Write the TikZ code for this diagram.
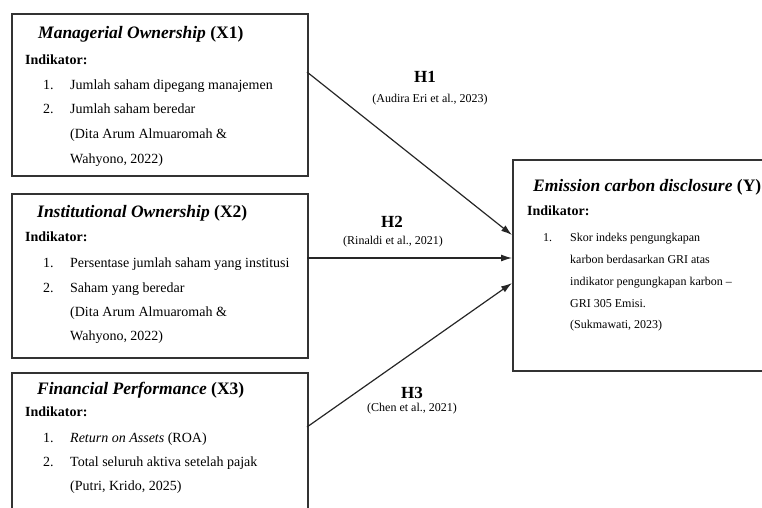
\documentclass[tikz,border=0pt]{standalone}
\usepackage{fontspec}
\setmainfont{Liberation Serif}
\usetikzlibrary{arrows.meta}

\tikzset{
  box/.style={draw=black!80, line width=1.7pt, anchor=north west, inner sep=0pt},
  arr/.style={-{Latex[length=11pt,width=7pt]}, line width=1.2pt, draw=black!85},
  ttl/.style={anchor=west, inner sep=0pt, text height=12pt, text depth=4pt, font=\fontsize{17.5}{20}\selectfont\bfseries},
  ind/.style={anchor=west, inner sep=0pt, text height=10pt, text depth=3pt, font=\fontsize{14}{16}\selectfont\bfseries},
  txt/.style={anchor=west, inner sep=0pt, text height=10pt, text depth=3pt, font=\fontsize{14}{16}\selectfont},
  stxt/.style={anchor=west, inner sep=0pt, text height=9pt, text depth=3pt, font=\fontsize{12}{14}\selectfont},
  hyp/.style={inner sep=0pt, font=\fontsize{17}{20}\selectfont\bfseries},
  cite/.style={inner sep=0pt, font=\fontsize{12}{14}\selectfont},
}

\begin{document}
\begin{tikzpicture}[x=1pt, y=-1pt]
            \useasboundingbox (0,0) rectangle (762,507);
            \clip (0,0) rectangle (762,507);
            % boxes
            \node [box, minimum width=296pt, minimum height=162pt] (x1) at (11,13) {};
            \node [box, minimum width=296pt, minimum height=164pt] (x2) at (11,193) {};
            \node [box, minimum width=296pt, minimum height=150pt] (x3) at (11,372) {};
            \node [box, minimum width=270pt, minimum height=211pt] (y) at (512,159) {};
            % X1
            \node [ttl] (t1) at (38,34) {\textit{Managerial Ownership} (X1)};
            \node [ind] (i1) at (25,61) {Indikator:};
            \node [txt] (n11) at (43,86) {1.};
            \node [txt] (a11) at (70,86) {Jumlah saham dipegang manajemen};
            \node [txt] (n12) at (43,110) {2.};
            \node [txt] (a12) at (70,110) {Jumlah saham beredar};
            \node [txt] (c11) at (70,135) {(Dita Arum Almuaromah \&};
            \node [txt] (c12) at (70,160) {Wahyono, 2022)};
            % X2
            \node [ttl] (t2) at (37,213) {\textit{Institutional Ownership} (X2)};
            \node [ind] (i2) at (25,238) {Indikator:};
            \node [txt] (n21) at (43,264) {1.};
            \node [txt] (a21) at (70,264) {Persentase jumlah saham yang institusi};
            \node [txt] (n22) at (43,289) {2.};
            \node [txt] (a22) at (70,289) {Saham yang beredar};
            \node [txt] (c21) at (70,313) {(Dita Arum Almuaromah \&};
            \node [txt] (c22) at (70,337) {Wahyono, 2022)};
            % X3
            \node [ttl] (t3) at (37,390) {\textit{Financial Performance} (X3)};
            \node [ind] (i3) at (25,413) {Indikator:};
            \node [txt] (n31) at (43,439) {1.};
            \node [txt] (a31) at (70,439) {\textit{Return on Assets} (ROA)};
            \node [txt] (n32) at (43,463) {2.};
            \node [txt] (a32) at (70,463) {Total seluruh aktiva setelah pajak};
            \node [txt] (c31) at (70,487) {(Putri, Krido, 2025)};
            % Y
            \node [ttl] (ty) at (533,187) {\textit{Emission carbon disclosure} (Y)};
            \node [ind] (iy) at (527,212) {Indikator:};
            \node [stxt] (ny1) at (543,238) {1.};
            \node [stxt] (ay1) at (570,238) {Skor indeks pengungkapan};
            \node [stxt] (ay2) at (570,260) {karbon berdasarkan GRI atas};
            \node [stxt] (ay3) at (570,282) {indikator pengungkapan karbon --};
            \node [stxt] (ay4) at (570,304) {GRI 305 Emisi.};
            \node [stxt] (cy1) at (570,325) {(Sukmawati, 2023)};
            % arrows
            \coordinate (h1s) at (307,72);
            \coordinate (h1e) at (512,235);
            \coordinate (h2s) at (307,258);
            \coordinate (h2e) at (512,258);
            \coordinate (h3s) at (307,427);
            \coordinate (h3e) at (512,283);
            \draw [arr] (h1s) -- (h1e);
            \draw [arr] (h2s) -- (h2e);
            \draw [arr] (h3s) -- (h3e);
            \node [hyp] (lh1) at (425,77) {H1};
            \node [cite] (rh1) at (430,100) {(Audira Eri et al., 2023)};
            \node [hyp] (lh2) at (392,222) {H2};
            \node [cite] (rh2) at (393,242) {(Rinaldi et al., 2021)};
            \node [hyp] (lh3) at (412,393) {H3};
            \node [cite] (rh3) at (412,409) {(Chen et al., 2021)};
        \end{tikzpicture}
\end{document}
